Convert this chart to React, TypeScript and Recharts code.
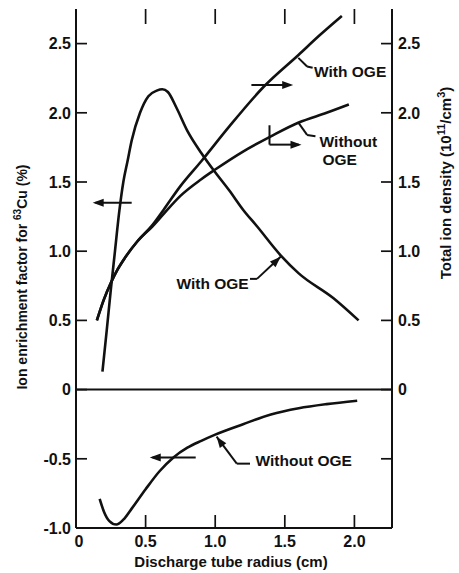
import React from 'react';
import { ComposedChart, Line, XAxis, YAxis, ReferenceLine, ReferenceDot } from 'recharts';

// ion enrichment factor (%), with OGE
const enrichWithR = [0.19, 0.22, 0.25, 0.28, 0.31, 0.34, 0.37, 0.40, 0.46, 0.52, 0.58, 0.62, 0.66, 0.72, 0.80, 0.90, 1.0, 1.1, 1.2, 1.3, 1.47, 1.6, 1.85, 2.03];
const enrichWithPct = [0.13, 0.42, 0.72, 1.0, 1.28, 1.5, 1.65, 1.8, 2.0, 2.12, 2.16, 2.17, 2.15, 2.04, 1.87, 1.71, 1.57, 1.44, 1.3, 1.18, 0.97, 0.84, 0.66, 0.5];

// ion enrichment factor (%), without OGE
const enrichWithoutR = [0.17, 0.2, 0.24, 0.29, 0.34, 0.4, 0.5, 0.6, 0.7, 0.8, 0.9, 1.0, 1.2, 1.4, 1.6, 1.8, 2.02];
const enrichWithoutPct = [-0.79, -0.88, -0.95, -0.975, -0.94, -0.86, -0.72, -0.59, -0.49, -0.42, -0.37, -0.325, -0.25, -0.18, -0.135, -0.105, -0.08];

// total ion density (1e11/cm3)
const densWithR = [0.15, 0.2, 0.25, 0.3, 0.35, 0.44, 0.55, 0.63, 0.75, 0.9, 1.1, 1.35, 1.6, 1.75, 1.91];
const densWithVal = [0.5, 0.65, 0.77, 0.87, 0.95, 1.07, 1.19, 1.3, 1.47, 1.65, 1.9, 2.19, 2.42, 2.56, 2.7];
const densWithoutR = [0.15, 0.2, 0.25, 0.3, 0.35, 0.44, 0.55, 0.63, 0.75, 0.9, 1.0, 1.2, 1.4, 1.6, 1.8, 1.96];
const densWithoutVal = [0.5, 0.65, 0.77, 0.87, 0.95, 1.07, 1.18, 1.27, 1.4, 1.52, 1.59, 1.72, 1.83, 1.93, 2.0, 2.06];

const xTicks = [0, 0.5, 1, 1.5, 2];
const leftTicks = [-1, -0.5, 0, 0.5, 1, 1.5, 2, 2.5];
const rightTicks = [-0.5, 0, 0.5, 1, 1.5, 2, 2.5];

const X_DOMAIN: [number, number] = [0, 2.27];
const Y_DOMAIN: [number, number] = [-1, 2.75];

// plot frame in px (chart 459x573, left axis 76, right axis 67, x axis 45, top 9)
const PLOT = { left: 76, right: 392, top: 9, bottom: 528 };

const zip = (xs: number[], ys: number[]) => xs.map((x, i) => ({ x, y: ys[i] }));

const FONT = '"Liberation Sans", Arial, Helvetica, sans-serif';
const INK = '#111';

const fmt = (v: number) => (v === 0 ? '0' : v.toFixed(1));

const textProps = { fontFamily: FONT, fontSize: 16, fontWeight: 700, fill: INK };

const LeftTick = (p: any) => (
  <text x={p.x} y={p.y} dy="0.36em" textAnchor="end" {...textProps}>{fmt(p.payload.value)}</text>
);
const RightTick = (p: any) =>
  p.payload.value >= 0 ? (
    <text x={p.x} y={p.y} dy="0.36em" textAnchor="start" {...textProps}>{fmt(p.payload.value)}</text>
  ) : (
    <g />
  );
const BottomTick = (p: any) => (
  <text x={p.payload.value === 0 ? p.x + 3 : p.x} y={p.y} dy="0.71em" textAnchor="middle" {...textProps}>
    {fmt(p.payload.value)}
  </text>
);

// inward tick mark drawn from a point (dx, dy in px)
const mark = (dx: number, dy: number) => (p: any) => (
  <line x1={p.cx} y1={p.cy} x2={p.cx + dx} y2={p.cy + dy} stroke={INK} strokeWidth={1.7} />
);

const head = (angle: number) => (p: any) => (
  <path d="M0,0 L-11,-4 L-11,4 Z" transform={`translate(${p.cx},${p.cy}) rotate(${angle})`} fill={INK} />
);

const txt = (label: string, anchor: 'start' | 'end') => (p: any) => (
  <text x={p.cx} y={p.cy} dy="0.36em" textAnchor={anchor} fontFamily={FONT} fontSize={15.5} fontWeight={700} fill={INK}>
    {label}
  </text>
);

type Pt = { x: number; y: number };
const segs = (pts: Pt[], key: string) =>
  pts.slice(1).map((p, i) => (
    <ReferenceLine
      key={`${key}-${i}`}
      yAxisId="left"
      segment={[pts[i], p]}
      stroke={INK}
      strokeWidth={2}
      ifOverflow="visible"
    />
  ));

const tickMarks = () => [
  ...xTicks.filter((v) => v > 0).map((v) => (
    <ReferenceDot key={`tt${v}`} yAxisId="left" x={v} y={Y_DOMAIN[1]} ifOverflow="visible" shape={mark(0, 15)} />
  )),
  ...leftTicks.filter((v) => v > Y_DOMAIN[0]).map((v) => (
    <ReferenceDot key={`tl${v}`} yAxisId="left" x={X_DOMAIN[0]} y={v} ifOverflow="visible" shape={mark(11, 0)} />
  )),
  ...rightTicks.map((v) => (
    <ReferenceDot key={`tr${v}`} yAxisId="left" x={X_DOMAIN[1]} y={v} ifOverflow="visible" shape={mark(-11, 0)} />
  )),
];

const xPx = (v: number) => PLOT.left + ((v - X_DOMAIN[0]) / (X_DOMAIN[1] - X_DOMAIN[0])) * (PLOT.right - PLOT.left);

export default function App() {
  const lineProps = {
    type: 'monotone' as const,
    dataKey: 'y',
    stroke: INK,
    strokeWidth: 2.6,
    dot: false,
    isAnimationActive: false,
  };
  const axisLine = { stroke: INK, strokeWidth: 2 };
  return (
    <div style={{ position: 'absolute', left: 0, top: 0, width: 459, height: 573, background: '#fff' }}>
      <ComposedChart width={459} height={573} margin={{ top: 9, right: 0, bottom: 0, left: 0 }}>
        <XAxis
          type="number"
          dataKey="x"
          domain={X_DOMAIN}
          ticks={xTicks}
          height={45}
          tickSize={0}
          tickMargin={8}
          axisLine={axisLine}
          tickLine={false}
          tick={BottomTick}
          allowDataOverflow
        />
        <XAxis
          xAxisId="top"
          orientation="top"
          type="number"
          domain={X_DOMAIN}
          ticks={xTicks}
          height={0}
          tick={false}
          axisLine={axisLine}
          tickLine={false}
        />
        <YAxis
          yAxisId="left"
          type="number"
          domain={Y_DOMAIN}
          ticks={leftTicks}
          width={76}
          tickSize={0}
          tickMargin={5}
          axisLine={axisLine}
          tickLine={false}
          tick={LeftTick}
          allowDataOverflow
        />
        <YAxis
          yAxisId="right"
          orientation="right"
          type="number"
          domain={Y_DOMAIN}
          ticks={rightTicks}
          width={67}
          tickSize={0}
          tickMargin={6}
          axisLine={axisLine}
          tickLine={false}
          tick={RightTick}
          allowDataOverflow
        />
        <ReferenceLine yAxisId="left" y={0} stroke={INK} strokeWidth={2} />
        {tickMarks()}

        <Line {...lineProps} yAxisId="left" data={zip(enrichWithR, enrichWithPct)} />
        <Line {...lineProps} yAxisId="left" data={zip(enrichWithoutR, enrichWithoutPct)} />
        <Line {...lineProps} yAxisId="right" data={zip(densWithR, densWithVal)} />
        <Line {...lineProps} yAxisId="right" data={zip(densWithoutR, densWithoutVal)} />

        {/* axis-pointer arrows */}
        {segs([{ x: 0.4, y: 1.35 }, { x: 0.14, y: 1.35 }], 'a1')}
        <ReferenceDot yAxisId="left" x={0.12} y={1.35} shape={head(180)} />
        {segs([{ x: 1.26, y: 2.2 }, { x: 1.54, y: 2.2 }], 'a2')}
        <ReferenceDot yAxisId="left" x={1.56} y={2.2} shape={head(0)} />
        {segs([{ x: 1.39, y: 1.91 }, { x: 1.39, y: 1.77 }, { x: 1.6, y: 1.77 }], 'a3')}
        <ReferenceDot yAxisId="left" x={1.62} y={1.77} shape={head(0)} />
        {segs([{ x: 0.86, y: -0.49 }, { x: 0.55, y: -0.49 }], 'a4')}
        <ReferenceDot yAxisId="left" x={0.53} y={-0.49} shape={head(180)} />

        {/* curve labels */}
        {segs([{ x: 1.597, y: 2.397 }, { x: 1.66, y: 2.335 }, { x: 1.7, y: 2.325 }], 'l1')}
        <ReferenceDot yAxisId="left" x={1.71} y={2.3} shape={txt('With OGE', 'start')} />

        {segs([{ x: 1.6, y: 1.925 }, { x: 1.66, y: 1.84 }, { x: 1.72, y: 1.83 }], 'l2')}
        <ReferenceDot yAxisId="left" x={1.75} y={1.79} shape={txt('Without', 'start')} />
        <ReferenceDot yAxisId="left" x={1.77} y={1.66} shape={txt('OGE', 'start')} />

        {segs([{ x: 1.25, y: 0.8 }, { x: 1.3, y: 0.8 }, { x: 1.47, y: 0.96 }], 'l3')}
        <ReferenceDot yAxisId="left" x={1.47} y={0.96} shape={head(-44)} />
        <ReferenceDot yAxisId="left" x={1.24} y={0.77} shape={txt('With OGE', 'end')} />

        {segs([{ x: 1.01, y: -0.34 }, { x: 1.155, y: -0.535 }, { x: 1.25, y: -0.535 }], 'l4')}
        <ReferenceDot yAxisId="left" x={1.01} y={-0.34} shape={head(-126)} />
        <ReferenceDot yAxisId="left" x={1.29} y={-0.51} shape={txt('Without OGE', 'start')} />
      </ComposedChart>

      <svg width={459} height={573} style={{ position: 'absolute', left: 0, top: 0, pointerEvents: 'none' }}>
        {/* inward ticks on the bottom frame */}
        {xTicks.filter((v) => v > 0).map((v) => (
          <line key={v} x1={xPx(v)} x2={xPx(v)} y1={PLOT.bottom} y2={PLOT.bottom - 13} stroke={INK} strokeWidth={1.7} />
        ))}
        <text
          transform="translate(27,277) rotate(-90)"
          textAnchor="middle"
          fontFamily={FONT}
          fontSize={14}
          fontWeight={700}
          fill={INK}
        >
          Ion enrichment factor for <tspan dy={-6} fontSize={10}>63</tspan>
          <tspan dy={6}>Cu (%)</tspan>
        </text>
        <text
          transform="translate(451,183) rotate(-90)"
          textAnchor="middle"
          fontFamily={FONT}
          fontSize={15}
          fontWeight={700}
          fill={INK}
        >
          Total ion density (10<tspan dy={-6} fontSize={11}>11</tspan>
          <tspan dy={6}>/cm</tspan>
          <tspan dy={-6} fontSize={11}>3</tspan>
          <tspan dy={6}>)</tspan>
        </text>
        <text x={231} y={567} textAnchor="middle" fontFamily={FONT} fontSize={15} fontWeight={700} fill={INK}>
          Discharge tube radius (cm)
        </text>
      </svg>
    </div>
  );
}
